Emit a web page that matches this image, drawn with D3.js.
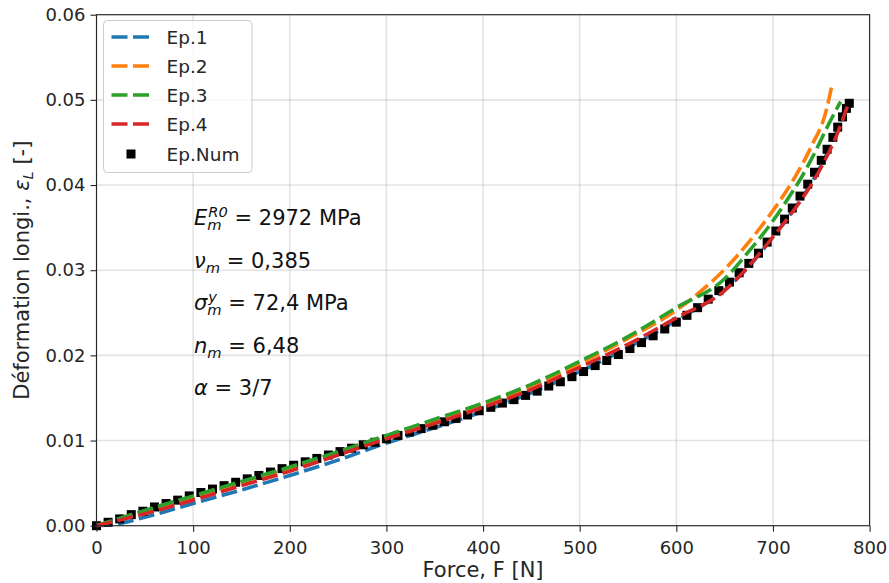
<!DOCTYPE html>
<html>
<head>
<meta charset="utf-8">
<script src="https://cdn.jsdelivr.net/npm/d3@7"></script>
<style>
  html, body { margin: 0; padding: 0; background: #fff; }
  svg { display: block; font-family: "DejaVu Sans", sans-serif; }
</style>
</head>
<body>
<svg id="chart" width="889" height="583"></svg>
<script>
// ---------------- data ----------------
const forceTicks = [0, 100, 200, 300, 400, 500, 600, 700, 800];
const strainTicks = [0.00, 0.01, 0.02, 0.03, 0.04, 0.05, 0.06];

const ep1Force  = [0, 20, 50, 100, 150, 200, 250, 300, 350, 400, 450, 500, 550, 600, 650, 675, 700, 720, 740, 755, 765, 773];
const ep1Strain = [0, 0.0002, 0.0010, 0.0026, 0.0042, 0.0059, 0.0077, 0.0097, 0.0115, 0.0134, 0.0156, 0.0181, 0.0209, 0.0241, 0.0277, 0.0304, 0.0339, 0.0369, 0.0403, 0.0435, 0.0460, 0.0486];

const ep2Force  = [0, 50, 100, 150, 200, 250, 300, 350, 400, 450, 500, 550, 600, 625, 650, 675, 700, 720, 740, 755, 761];
const ep2Strain = [0, 0.0017, 0.0034, 0.0051, 0.0068, 0.0086, 0.0104, 0.0123, 0.0142, 0.0163, 0.0190, 0.0220, 0.0253, 0.0275, 0.0301, 0.0333, 0.0370, 0.0404, 0.0446, 0.0487, 0.0517];

const ep3Force  = [0, 50, 100, 150, 200, 250, 300, 350, 400, 450, 500, 550, 600, 650, 675, 700, 715, 730, 745, 757, 770];
const ep3Strain = [0, 0.0018, 0.0035, 0.0052, 0.0069, 0.0087, 0.0106, 0.0125, 0.0144, 0.0166, 0.0193, 0.0222, 0.0256, 0.0290, 0.0322, 0.0358, 0.0383, 0.0410, 0.0442, 0.0470, 0.0498];

const ep4Force  = [0, 50, 100, 150, 200, 250, 300, 350, 400, 450, 500, 550, 600, 650, 675, 700, 720, 740, 755, 765, 777];
const ep4Strain = [0, 0.0014, 0.0030, 0.0047, 0.0064, 0.0083, 0.0102, 0.0120, 0.0139, 0.0160, 0.0186, 0.0213, 0.0244, 0.0276, 0.0305, 0.0339, 0.0368, 0.0401, 0.0432, 0.0456, 0.0492];

const numForce  = [0, 12, 24, 36, 48, 60, 72, 84, 96, 108, 120, 132, 144, 156, 168, 180, 192, 204, 216, 228, 240, 252, 264, 276, 288, 300, 312, 324, 336, 348, 360, 372, 384, 396, 408, 420, 432, 444, 456, 468, 480, 492, 504, 516, 528, 540, 552, 564, 576, 588, 600, 611, 622, 633, 644, 655, 665, 675, 685, 694, 703, 712, 720, 728, 736, 743, 750, 756, 762, 767, 772, 776, 779];
const numStrain = [0.0000, 0.0004, 0.0008, 0.0013, 0.0017, 0.0022, 0.0026, 0.0030, 0.0035, 0.0039, 0.0043, 0.0047, 0.0051, 0.0055, 0.0059, 0.0063, 0.0067, 0.0071, 0.0075, 0.0079, 0.0083, 0.0087, 0.0091, 0.0095, 0.0098, 0.0102, 0.0106, 0.0110, 0.0114, 0.0118, 0.0122, 0.0126, 0.0130, 0.0135, 0.0139, 0.0144, 0.0148, 0.0153, 0.0158, 0.0164, 0.0169, 0.0175, 0.0181, 0.0188, 0.0194, 0.0201, 0.0208, 0.0215, 0.0223, 0.0231, 0.0239, 0.0247, 0.0256, 0.0266, 0.0276, 0.0286, 0.0297, 0.0308, 0.0320, 0.0333, 0.0346, 0.0360, 0.0373, 0.0387, 0.0401, 0.0415, 0.0429, 0.0442, 0.0456, 0.0468, 0.0480, 0.0490, 0.0496];

const seriesNames = ["Ep.1", "Ep.2", "Ep.3", "Ep.4", "Ep.Num"];
const seriesColors = ["#1f77b4", "#ff7f0e", "#2ca02c", "#d62728", "#000000"];

// ---------------- layout ----------------
const svg = d3.select("#chart");
const L = 96.5, R = 869.6, T = 14.7, B = 525.7;

const x = d3.scaleLinear().domain([0, 800]).range([L, R]);
const y = d3.scaleLinear().domain([0, 0.06]).range([B, T]);

svg.append("rect").attr("width", 889).attr("height", 583).attr("fill", "#fff");

// grid
const grid = svg.append("g");
grid.selectAll(".gx").data(forceTicks).join("line")
  .attr("x1", d => x(d)).attr("x2", d => x(d)).attr("y1", T).attr("y2", B)
  .attr("stroke", "#b0b0b0").attr("stroke-opacity", 0.35).attr("stroke-width", 1.6);
grid.selectAll(".gy").data(strainTicks).join("line")
  .attr("y1", d => y(d)).attr("y2", d => y(d)).attr("x1", L).attr("x2", R)
  .attr("stroke", "#b0b0b0").attr("stroke-opacity", 0.35).attr("stroke-width", 1.6);

// data
const plot = svg.append("g");
const zip = (a, b) => a.map((v, i) => [v, b[i]]);
const line = d3.line().x(d => x(d[0])).y(d => y(d[1])).curve(d3.curveMonotoneX);
const dash = "16,5.5";
const lw = 3.6;

function drawLine(f, s, color) {
  plot.append("path").datum(zip(f, s))
    .attr("d", line).attr("fill", "none")
    .attr("stroke", color).attr("stroke-width", lw)
    .attr("stroke-dasharray", dash);
}
drawLine(ep1Force, ep1Strain, seriesColors[0]);
plot.append("g").selectAll("rect").data(zip(numForce, numStrain)).join("rect")
  .attr("x", d => x(d[0]) - 4.5).attr("y", d => y(d[1]) - 4.5)
  .attr("width", 9).attr("height", 9).attr("fill", "#000");
drawLine(ep2Force, ep2Strain, seriesColors[1]);
drawLine(ep3Force, ep3Strain, seriesColors[2]);
drawLine(ep4Force, ep4Strain, seriesColors[3]);

// axes
const axisColor = "#262626";
const xAxis = svg.append("g").attr("transform", `translate(0,${B})`)
  .call(d3.axisBottom(x).tickValues(forceTicks).tickFormat(d3.format("d")).tickSize(6).tickPadding(5));
const yAxis = svg.append("g").attr("transform", `translate(${L},0)`)
  .call(d3.axisLeft(y).tickValues(strainTicks).tickFormat(d3.format(".2f")).tickSize(6).tickPadding(5));
[xAxis, yAxis].forEach(a => {
  a.select(".domain").remove();
  a.selectAll("line").attr("stroke", axisColor).attr("stroke-width", 1.1);
  a.selectAll("text").attr("fill", "#262626").attr("font-size", 18)
    .attr("font-family", "DejaVu Sans");
});
xAxis.selectAll("text").attr("dy", "0.95em");

// frame
svg.append("rect").attr("x", L).attr("y", T).attr("width", R - L).attr("height", B - T)
  .attr("fill", "none").attr("stroke", axisColor).attr("stroke-width", 1.1);

// axis labels
svg.append("text").attr("x", (L + R) / 2).attr("y", 577)
  .attr("text-anchor", "middle").attr("font-size", 21).attr("fill", "#262626")
  .text("Force, F [N]");

const yl = svg.append("text")
  .attr("transform", `translate(29,${(T + B) / 2}) rotate(-90)`)
  .attr("text-anchor", "middle").attr("font-size", 21).attr("fill", "#262626");
yl.append("tspan").text("Déformation longi., ");
yl.append("tspan").attr("font-style", "italic").text("ε");
yl.append("tspan").attr("font-style", "italic").attr("font-size", 14.7).attr("dy", 4).text("L");
yl.append("tspan").attr("dy", -4).text(" [-]");

// annotation block (mathtext-like), each line one text element
const fs = 21;
function measure(str, size, italic) {
  const t = svg.append("text").attr("font-size", size)
    .attr("font-style", italic ? "italic" : "normal").text(str);
  const w = t.node().getComputedTextLength();
  t.remove();
  return w;
}
function mathLine(x0, baseline, base, sup, sub, rest) {
  const wb = measure(base, fs, true);
  const t = svg.append("text").attr("y", baseline).attr("font-size", fs).attr("fill", "#111")
    .attr("xml:space", "preserve").style("white-space", "pre");
  t.append("tspan").attr("x", x0).attr("y", baseline).attr("font-style", "italic").text(base);
  let w2 = 0;
  if (sup) {
    t.append("tspan").attr("x", x0 + wb + 1).attr("y", baseline - 8)
      .attr("font-size", fs * 0.7).attr("font-style", "italic").text(sup);
    w2 = Math.max(w2, measure(sup, fs * 0.7, true) + 1);
  }
  if (sub) {
    t.append("tspan").attr("x", x0 + wb).attr("y", baseline + 5)
      .attr("font-size", fs * 0.7).attr("font-style", "italic").text(sub);
    w2 = Math.max(w2, measure(sub, fs * 0.7, true));
  }
  t.append("tspan").attr("x", x0 + wb + w2).attr("y", baseline).text(rest);
}
mathLine(194, 225, "E", "R0", "m", " = 2972 MPa");
mathLine(194, 268, "ν", null, "m", " = 0,385");
mathLine(194, 310, "σ", "y", "m", " = 72,4 MPa");
mathLine(194, 353, "n", null, "m", " = 6,48");
mathLine(194, 395, "α", null, null, " = 3/7");

// legend
const lg = svg.append("g");
lg.append("rect").attr("x", 103.5).attr("y", 20.5).attr("width", 148.5).attr("height", 152)
  .attr("rx", 4).attr("fill", "#fff").attr("fill-opacity", 0.8)
  .attr("stroke", "#cccccc").attr("stroke-width", 1);
const legendY = [37, 66, 95, 124, 154];
seriesNames.forEach((name, i) => {
  const cy = legendY[i];
  if (i < 4) {
    lg.append("line").attr("x1", 111.5).attr("x2", 150).attr("y1", cy).attr("y2", cy)
      .attr("stroke", seriesColors[i]).attr("stroke-width", lw).attr("stroke-dasharray", dash);
  } else {
    lg.append("rect").attr("x", 131 - 4.5).attr("y", cy - 4.5).attr("width", 9).attr("height", 9)
      .attr("fill", "#000");
  }
  lg.append("text").attr("x", 166.5).attr("y", cy).attr("dy", "0.36em")
    .attr("font-size", 18.5).attr("fill", "#262626").text(name);
});
</script>
</body>
</html>
